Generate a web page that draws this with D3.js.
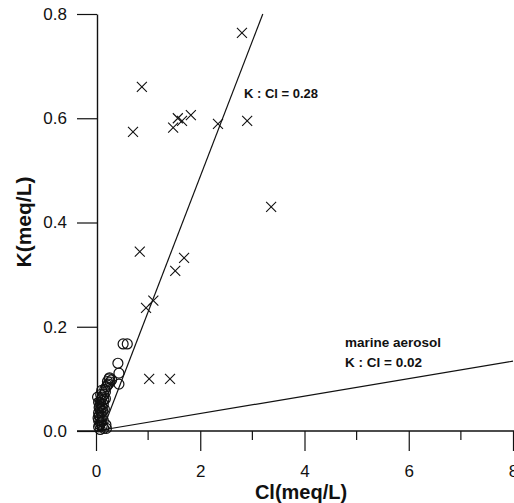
<!DOCTYPE html>
<html>
<head>
<meta charset="utf-8">
<script src="https://cdn.jsdelivr.net/npm/d3@7"></script>
<style>
  html, body { margin: 0; padding: 0; background: #fff; }
  svg { display: block; }
  text { font-family: Arial, "Liberation Sans", sans-serif; fill: #111; }
</style>
</head>
<body>
<div id="chart"></div>
<script>
// ---- data ----
const xTicks = [0, 2, 4, 6, 8];
const xMinorTicks = [1, 3, 5, 7];
const yTicks = [0.0, 0.2, 0.4, 0.6, 0.8];

// crosses (Cl, K)
const crossCl = [2.80, 0.88, 0.71, 1.48, 1.57, 1.65, 1.82, 2.34, 2.90, 3.36, 0.84, 1.52, 1.69, 1.10, 0.96, 1.02, 1.42];
const crossK  = [0.764, 0.660, 0.574, 0.582, 0.600, 0.595, 0.606, 0.589, 0.595, 0.430, 0.344, 0.307, 0.332, 0.250, 0.236, 0.100, 0.100];

// circles (Cl, K)
const circleCl = [0.52, 0.60, 0.42, 0.44, 0.44, 0.27, 0.22, 0.30, 0.25, 0.20, 0.18, 0.15, 0.12, 0.10, 0.08, 0.15, 0.10, 0.06, 0.12, 0.08, 0.05, 0.10, 0.06, 0.12, 0.08, 0.05, 0.10, 0.07, 0.12, 0.05, 0.15, 0.08, 0.20, 0.03, 0.05, 0.17, 0.22, 0.14, 0.18, 0.09, 0.13, 0.16, 0.04, 0.11, 0.19, 0.07, 0.14, 0.09, 0.24, 0.26];
const circleK  = [0.167, 0.167, 0.130, 0.111, 0.090, 0.094, 0.088, 0.098, 0.100, 0.085, 0.075, 0.070, 0.065, 0.060, 0.055, 0.060, 0.050, 0.045, 0.045, 0.040, 0.035, 0.035, 0.030, 0.028, 0.025, 0.020, 0.018, 0.012, 0.010, 0.008, 0.005, 0.003, 0.005, 0.065, 0.055, 0.080, 0.095, 0.052, 0.062, 0.070, 0.038, 0.042, 0.025, 0.078, 0.012, 0.048, 0.020, 0.015, 0.090, 0.102];

// reference lines (Cl, K endpoints)
const line028Cl = [0.12, 3.20];
const line028K  = [0.0, 0.80];
const marineCl = [0.0, 8.0];
const marineK  = [0.0, 0.134];

// ---- drawing ----
const W = 514, H = 503;
const svg = d3.select("#chart").append("svg").attr("width", W).attr("height", H);

const x = d3.scaleLinear().domain([0, 8]).range([96, 513]);
const y = d3.scaleLinear().domain([0, 0.8]).range([431, 14]);

// x axis
const xAxis = svg.append("g").attr("transform", `translate(0,${y(0)})`)
  .call(d3.axisBottom(x).tickValues(xTicks).tickSize(20).tickSizeOuter(0).tickFormat(d3.format("d")));
xAxis.select(".domain").attr("stroke", "#111").attr("stroke-width", 1.4)
  .attr("d", `M77,0H${W}`);
xAxis.selectAll(".tick line").attr("stroke", "#111").attr("stroke-width", 1.2);
xAxis.selectAll(".tick text").attr("y", 34).attr("dy", "0.71em")
  .style("font-size", "17px").style("font-family", "Arial, 'Liberation Sans', sans-serif").attr("fill", "#111");
// minor x ticks
svg.append("g").selectAll("line").data(xMinorTicks).join("line")
  .attr("x1", d => x(d)).attr("x2", d => x(d))
  .attr("y1", y(0)).attr("y2", y(0) + 9)
  .attr("stroke", "#111").attr("stroke-width", 1.2);

// y axis
const yAxis = svg.append("g").attr("transform", `translate(${x(0) + 1},0)`)
  .call(d3.axisLeft(y).tickValues(yTicks).tickSize(20).tickSizeOuter(0).tickFormat(d3.format(".1f")));
yAxis.select(".domain").attr("stroke", "#111").attr("stroke-width", 1.4);
yAxis.selectAll(".tick line").attr("stroke", "#111").attr("stroke-width", 1.2);
yAxis.selectAll(".tick text").attr("x", -30)
  .style("font-size", "17px").style("font-family", "Arial, 'Liberation Sans', sans-serif").attr("fill", "#111");

// axis titles
svg.append("text").attr("x", 301).attr("y", 499).attr("text-anchor", "middle")
  .style("font-size", "20px").style("font-weight", "bold").text("Cl(meq/L)");
svg.append("text").attr("transform", "translate(31,222) rotate(-90)").attr("text-anchor", "middle")
  .style("font-size", "21px").style("font-weight", "bold").text("K(meq/L)");

// reference lines
const lineGen = d3.line().x(d => x(d[0])).y(d => y(d[1]));
svg.append("path").datum(d3.zip(line028Cl, line028K)).attr("d", lineGen)
  .attr("fill", "none").attr("stroke", "#111").attr("stroke-width", 1.2);
svg.append("path").datum(d3.zip(marineCl, marineK)).attr("d", lineGen)
  .attr("fill", "none").attr("stroke", "#111").attr("stroke-width", 1.2);

// annotations
svg.append("text").attr("x", 244).attr("y", 98).style("font-size", "13px").style("font-weight", "bold").text("K : Cl = 0.28");
svg.append("text").attr("x", 345).attr("y", 347).style("font-size", "13.5px").style("font-weight", "bold").text("marine aerosol");
svg.append("text").attr("x", 345).attr("y", 367).style("font-size", "13.5px").style("font-weight", "bold").text("K : Cl = 0.02");

// circles
svg.append("g").selectAll("circle").data(d3.zip(circleCl, circleK)).join("circle")
  .attr("cx", d => x(d[0])).attr("cy", d => y(d[1])).attr("r", 5)
  .attr("fill", "none").attr("stroke", "#111").attr("stroke-width", 1.2);

// crosses
const s = 5;
svg.append("g").selectAll("path").data(d3.zip(crossCl, crossK)).join("path")
  .attr("d", d => {
    const cx = x(d[0]), cy = y(d[1]);
    return `M${cx - s},${cy - s}L${cx + s},${cy + s}M${cx - s},${cy + s}L${cx + s},${cy - s}`;
  })
  .attr("fill", "none").attr("stroke", "#111").attr("stroke-width", 1.1);
</script>
</body>
</html>
